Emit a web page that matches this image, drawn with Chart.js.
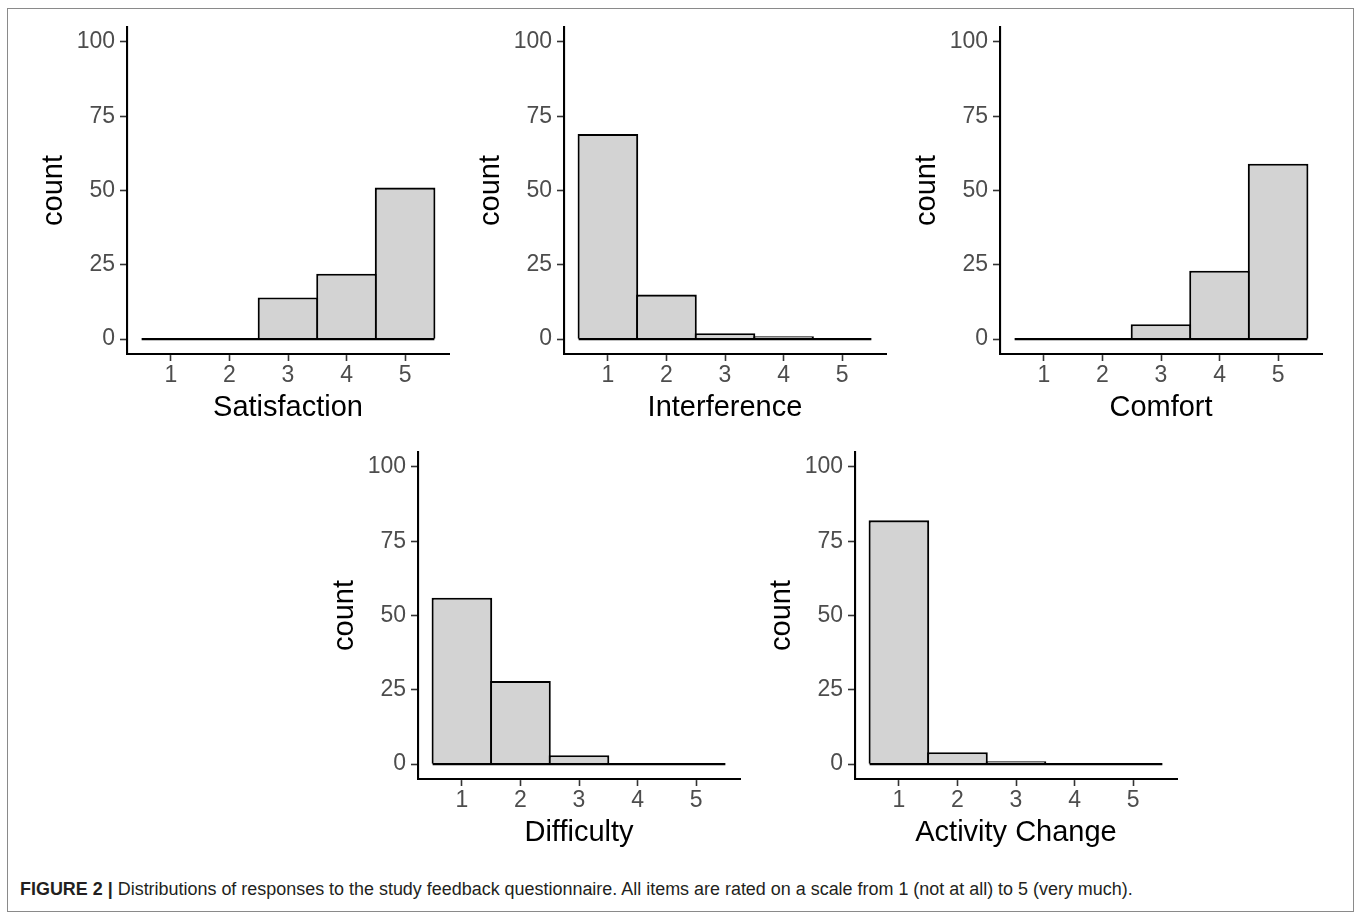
<!DOCTYPE html>
<html>
<head>
<meta charset="utf-8">
<script src="https://cdn.jsdelivr.net/npm/chart.js@4.4.1/dist/chart.umd.min.js"></script>
<style>
html,body{margin:0;padding:0;background:#fff;}
body{width:1358px;height:918px;position:relative;overflow:hidden;font-family:"Liberation Sans",Arial,sans-serif;}
#frame{position:absolute;left:7px;top:8px;width:1347px;height:904px;border:1px solid #8a8a8a;box-sizing:border-box;}
canvas{position:absolute;}
#caption{position:absolute;left:20px;top:879px;font-size:15px;color:#231f20;white-space:nowrap;}
#caption b{font-weight:bold;}
</style>
</head>
<body>
<div id="frame"></div>
<canvas id="c0"></canvas>
<canvas id="c1"></canvas>
<canvas id="c2"></canvas>
<canvas id="c3"></canvas>
<canvas id="c4"></canvas>
<div id="caption"><b>FIGURE 2 |</b> Distributions of responses to the study feedback questionnaire. All items are rated on a scale from 1 (not at all) to 5 (very much).</div>
<script>
// ---- data ----
const binLabels = [1, 2, 3, 4, 5];
const countTicks = [0, 25, 50, 75, 100];
const panelTitles = ['Satisfaction', 'Interference', 'Comfort', 'Difficulty', 'Activity Change'];
const satisfaction = [0, 0, 14, 22, 51];
const interference = [69, 15, 2, 1, 0];
const comfort = [0, 0, 5, 23, 59];
const difficulty = [56, 28, 3, 0, 0];
const activityChange = [82, 4, 1, 0, 0];
const yTitle = 'count';

// ---- layout ----
const panelBoxes = [
  {left: 127, top: 27},
  {left: 564, top: 27},
  {left: 1000, top: 27},
  {left: 418, top: 452},
  {left: 855, top: 452}
];
const PLOT_W = 322, PLOT_H = 327;
const Y_AXIS_W = 100, X_AXIS_H = 75, PAD_TOP = 10, PAD_RIGHT = 10;
const FONT = '"Liberation Sans", Arial, sans-serif';
const TICK_SIZE = 23, TITLE_SIZE = 29;
const LINE_W = 2.1;

function makeChart(id, title, counts, box) {
  const canvas = document.getElementById(id);
  canvas.width = Y_AXIS_W + PLOT_W + PAD_RIGHT;
  canvas.height = PAD_TOP + PLOT_H + X_AXIS_H;
  canvas.style.left = (box.left - Y_AXIS_W) + 'px';
  canvas.style.top = (box.top - PAD_TOP) + 'px';
  const first = binLabels[0], last = binLabels[binLabels.length - 1];
  const yLo = countTicks[0], yHi = countTicks[countTicks.length - 1];
  const yPad = (yHi - yLo) * 0.05;
  const chart = new Chart(canvas, {
    type: 'bar',
    data: {
      datasets: [
        {
          type: 'bar',
          data: binLabels.map((b, i) => ({x: b, y: counts[i]})),
          backgroundColor: '#d3d3d3',
          borderColor: '#000',
          borderWidth: LINE_W,
          borderSkipped: 'start',
          barPercentage: 1.036,
          categoryPercentage: 1,
          order: 1
        },
        {
          type: 'line',
          data: [{x: first - 0.5, y: 0}, {x: last + 0.5, y: 0}],
          borderColor: '#000',
          borderWidth: LINE_W,
          pointRadius: 0,
          fill: false,
          order: 0
        }
      ]
    },
    options: {
      responsive: false,
      animation: false,
      devicePixelRatio: 1,
      layout: {padding: {top: PAD_TOP, right: PAD_RIGHT, left: 0, bottom: 0}},
      plugins: {legend: {display: false}, tooltip: {enabled: false}},
      scales: {
        x: {
          type: 'linear',
          offset: false,
          min: first - 0.75,
          max: last + 0.75,
          afterBuildTicks: s => { s.ticks = binLabels.map(v => ({value: v})); },
          afterFit: s => { s.height = X_AXIS_H; s.paddingLeft = 0; s.paddingRight = 0; },
          grid: {offset: false, drawOnChartArea: false, drawTicks: true, tickLength: 7, tickWidth: 1.6, tickColor: '#333'},
          border: {display: true, color: '#000', width: LINE_W},
          ticks: {color: '#4d4d4d', font: {family: FONT, size: TICK_SIZE}, padding: 1, maxRotation: 0, autoSkip: false},
          title: {display: true, text: title, color: '#000', font: {family: FONT, size: TITLE_SIZE}, padding: {top: 0, bottom: 4}}
        },
        y: {
          type: 'linear',
          offset: false,
          min: yLo - yPad,
          max: yHi + yPad,
          afterBuildTicks: s => { s.ticks = countTicks.map(v => ({value: v})); },
          afterFit: s => { s.width = Y_AXIS_W; s.paddingTop = 0; s.paddingBottom = 0; },
          grid: {offset: false, drawOnChartArea: false, drawTicks: true, tickLength: 7, tickWidth: 1.6, tickColor: '#333'},
          border: {display: true, color: '#000', width: LINE_W},
          ticks: {color: '#4d4d4d', font: {family: FONT, size: TICK_SIZE}, padding: 5},
          title: {display: true, text: yTitle, color: '#000', font: {family: FONT, size: TITLE_SIZE}, padding: {top: 10, bottom: 0}}
        }
      }
    }
  });
  // align the plotting area to the intended box
  const ca = chart.chartArea;
  canvas.style.left = (box.left - Math.round(ca.left)) + 'px';
  canvas.style.top = (box.top - Math.round(ca.top)) + 'px';
}

const seriesList = [satisfaction, interference, comfort, difficulty, activityChange];
seriesList.forEach((s, i) => makeChart('c' + i, panelTitles[i], s, panelBoxes[i]));

// fit caption width to reference span
const cap = document.getElementById('caption');
const targetW = 1113;
const w = cap.getBoundingClientRect().width;
cap.style.fontSize = (15 * targetW / w).toFixed(2) + 'px';
</script>
</body>
</html>
